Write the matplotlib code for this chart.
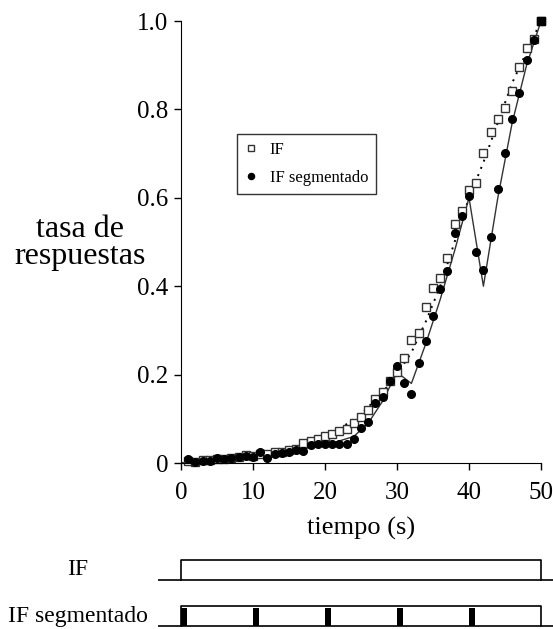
import numpy as np
import matplotlib.pyplot as plt

plt.rcParams['font.family'] = ['Liberation Serif', 'DejaVu Serif']

# response rate per second of the interval, both procedures
tiempo = np.arange(1, 51)
tasa_if = [0.005, 0.003, 0.006, 0.006, 0.008, 0.010, 0.012, 0.014, 0.018, 0.016,
           0.020, 0.020, 0.024, 0.026, 0.030, 0.032, 0.045, 0.050, 0.055, 0.060,
           0.066, 0.072, 0.078, 0.090, 0.105, 0.120, 0.145, 0.160, 0.185, 0.205,
           0.238, 0.278, 0.295, 0.352, 0.397, 0.419, 0.464, 0.541, 0.571, 0.618,
           0.634, 0.701, 0.749, 0.779, 0.804, 0.842, 0.895, 0.938, 0.960, 1.000]
tasa_seg = [0.008, 0.003, 0.004, 0.005, 0.012, 0.010, 0.012, 0.014, 0.016, 0.014,
            0.026, 0.012, 0.020, 0.022, 0.024, 0.030, 0.028, 0.040, 0.042, 0.044,
            0.043, 0.043, 0.044, 0.055, 0.080, 0.092, 0.135, 0.150, 0.185, 0.219,
            0.180, 0.155, 0.226, 0.275, 0.333, 0.393, 0.434, 0.521, 0.559, 0.604,
            0.477, 0.437, 0.511, 0.620, 0.701, 0.779, 0.836, 0.912, 0.957, 1.000]

# model curves
t_mod_if = [0, 5, 10, 15, 20, 25, 28, 30, 32, 34, 36, 38, 40, 42, 44, 46, 48, 50]
y_mod_if = [0.0, 0.008, 0.017, 0.030, 0.055, 0.110, 0.160, 0.200, 0.250, 0.320,
            0.400, 0.500, 0.600, 0.680, 0.770, 0.860, 0.930, 1.0]
t_mod_seg = [0, 10, 20, 24, 26, 28, 30, 32, 34, 36, 38, 40, 42, 44, 46, 48, 50]
y_mod_seg = [0.0, 0.015, 0.040, 0.060, 0.090, 0.140, 0.205, 0.180, 0.270, 0.370,
             0.480, 0.600, 0.400, 0.600, 0.770, 0.900, 1.0]

# start of each segment in the segmented schedule
inicio_seg = [0, 10, 20, 30, 40]
duracion = 50

W, H = 553, 629
fig = plt.figure(figsize=(W / 100, H / 100), dpi=100)

ax = fig.add_axes([181 / W, 1 - 463 / H, 360 / W, 442 / H])
ax.plot(t_mod_if, y_mod_if, color='black', lw=1.4, ls=(0, (1, 3)))
ax.plot(t_mod_seg, y_mod_seg, color='#333333', lw=1.0)
ax.plot(tiempo, tasa_if, ls='none', marker='s', ms=5.5, mfc='white', mec='#333333',
        mew=1.0, label='IF', clip_on=False)
ax.plot(tiempo, tasa_seg, ls='none', marker='o', ms=5.5, color='black',
        label='IF segmentado', clip_on=False)
ax.plot(tiempo[-1:], tasa_if[-1:], ls='none', marker='s', ms=5.5, color='black', clip_on=False)

ax.set_xlim(0, 50)
ax.set_ylim(0, 1)
ax.set_xticks(range(0, 51, 10))
ax.set_yticks([0, 0.2, 0.4, 0.6, 0.8, 1.0])
ax.set_yticklabels(['0', '0.2', '0.4', '0.6', '0.8', '1.0'])
for s in ['top', 'right']:
    ax.spines[s].set_visible(False)
ax.tick_params(direction='out', length=5, width=1, labelsize=18, pad=4)
ax.tick_params(axis='x', pad=9)
ax.set_xlabel('tiempo (s)', fontsize=19, labelpad=9)

leg = ax.legend(loc='upper left', bbox_to_anchor=(56 / 360, 1 - 113 / 442),
                fontsize=12, frameon=True, fancybox=False, edgecolor='black',
                markerscale=0.8, handlelength=0.8, handletextpad=0.7,
                borderpad=0.45, labelspacing=0.75, borderaxespad=0)
leg.get_frame().set_linewidth(1.0)

fig.text(80 / W, 1 - 243 / H, 'tasa de\nrespuestas', ha='center', va='center',
         fontsize=23, linespacing=0.95)

# schedule diagram under the axis
px = 360 / duracion
x0, x1 = 158, 553
dg = fig.add_axes([x0 / W, 0, (x1 - x0) / W, 84 / H])
dg.set_xlim(-(181 - x0) / px, duracion + (x1 - 541) / px)
dg.set_ylim(0, 84)
dg.axis('off')
xa, xb = dg.get_xlim()

filas = [(49.5, 69.0, 'IF', []), (3.0, 22.6, 'IF segmentado', inicio_seg)]
for base, top, nombre, marcas in filas:
    dg.plot([xa, xb], [base, base], color='black', lw=1.2)
    dg.plot([0, 0, duracion, duracion], [base, top, top, base], color='black', lw=1.2)
    for m in marcas:
        dg.fill_between([m, m + 0.8], base, top - 1.5, color='black', lw=0)
    fig.text(78 / W, (base + top) / 2 / H, nombre, ha='center', va='center', fontsize=17)

fig.savefig('out.png', dpi=100)
